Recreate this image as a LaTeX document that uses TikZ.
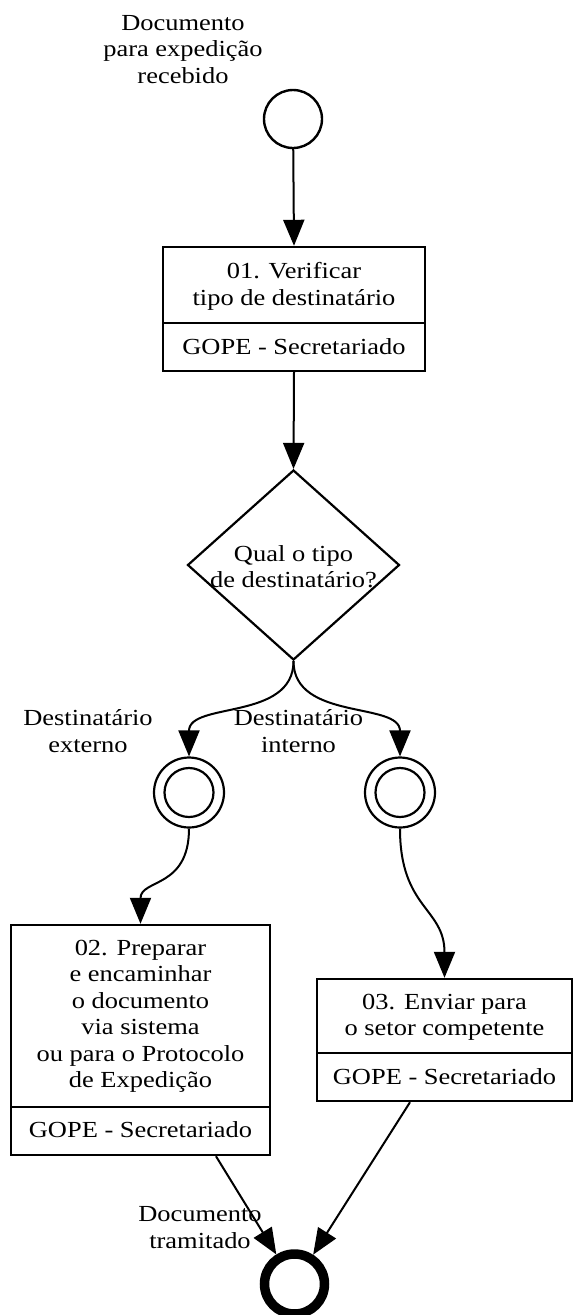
\documentclass[tikz,border=0pt]{standalone}
\usepackage{fontspec}
\setmainfont{Liberation Serif}[FakeStretch=1.15]
\usetikzlibrary{arrows.meta,shapes.geometric}
\begin{document}
\begin{tikzpicture}[x=1pt,y=-1pt,
  txt/.style={inner sep=0pt, align=center, font=\fontsize{23pt}{26.5pt}\selectfont},
  taskbox/.style={draw, rectangle, line width=2.4pt, inner sep=0pt},
  divline/.style={line width=2.4pt},
  conn/.style={line width=2pt, -{Triangle[length=26pt,width=21pt]}}
]
\useasboundingbox (0,0) rectangle (573,1315);
\fill[white] (0,0) rectangle (573,1315);

% start event
\node[circle, draw, line width=2.4pt, minimum size=58pt, inner sep=0pt] (start) at (293,119) {};
\node[txt] (lstart) at (183,49.5) {Documento\\para expedição\\recebido};

% task 01
\node[taskbox, minimum width=262pt, minimum height=124pt] (b1) at (294,309) {};
\draw[divline] (163,323) -- (425,323);
\node[txt] (t1) at (294,286.5) {01. Verificar\\tipo de destinatário};
\node[txt] (r1) at (294,347) {GOPE - Secretariado};

% gateway
\node[diamond, draw, line width=2.2pt, minimum width=212pt, minimum height=190pt, inner sep=0pt] (gw) at (293.5,565) {};
\node[txt] (tg) at (293.5,566.5) {Qual o tipo\\de destinatário?};

% intermediate events
\node[circle, draw, line width=2.2pt, minimum size=70pt, inner sep=0pt] (e1) at (189,792.5) {};
\node[circle, draw, line width=2.2pt, minimum size=49pt, inner sep=0pt] (e1i) at (189,792.5) {};
\node[circle, draw, line width=2.2pt, minimum size=70pt, inner sep=0pt] (e2) at (400,792.5) {};
\node[circle, draw, line width=2.2pt, minimum size=49pt, inner sep=0pt] (e2i) at (400,792.5) {};
\node[txt] (l1) at (88,731) {Destinatário\\externo};
\node[txt] (l2) at (298.5,731) {Destinatário\\interno};

% task 02
\node[taskbox, minimum width=259pt, minimum height=230pt] (b2) at (140.5,1040) {};
\draw[divline] (11,1107) -- (270,1107);
\node[txt] (t2) at (140.5,1016.5) {02. Preparar\\e encaminhar\\o documento\\via sistema\\ou para o Protocolo\\de Expedição};
\node[txt] (r2) at (140.5,1130) {GOPE - Secretariado};

% task 03
\node[taskbox, minimum width=255pt, minimum height=122pt] (b3) at (444.5,1040) {};
\draw[divline] (317,1053) -- (572,1053);
\node[txt] (t3) at (444.5,1017.5) {03. Enviar para\\o setor competente};
\node[txt] (r3) at (444.5,1077) {GOPE - Secretariado};

% end event
\node[circle, draw, line width=9.5pt, minimum size=60pt, inner sep=0pt] (end) at (294.5,1284) {};
\node[txt] (lend) at (200,1227.5) {Documento\\tramitado};

% connectors
\draw[conn] (start) -- (b1.north);
\draw[conn] (b1.south) -- (gw.north);
\draw[conn] (gw.south) .. controls +(0,60) and +(0,-55) .. (e1.north);
\draw[conn] (gw.south) .. controls +(0,60) and +(0,-55) .. (e2.north);
\draw[conn] (e1.south) .. controls +(0,60) and +(0,-45) .. (b2.north);
\draw[conn] (e2.south) .. controls +(0,80) and +(0,-70) .. (b3.north);
\draw[conn] (b2.-57) -- (end);
\draw[conn] (b3.-119.5) -- (end);
\end{tikzpicture}
\end{document}
